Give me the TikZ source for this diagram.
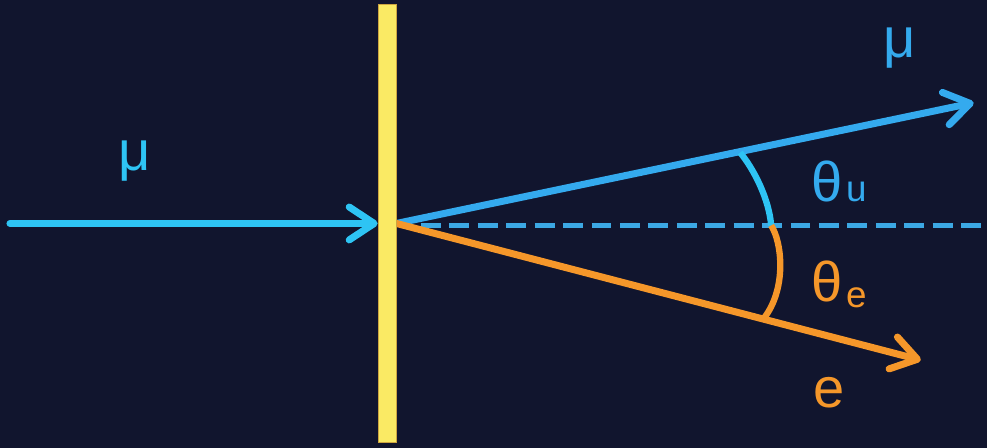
\documentclass[tikz,border=0pt]{standalone}
\usepackage{fontspec}
\setmainfont{Liberation Sans}
\usetikzlibrary{arrows.meta,positioning,calc}

\definecolor{bgnavy}{RGB}{17,21,46}
\definecolor{mucyan}{RGB}{46,196,244}
\definecolor{mublue}{RGB}{52,170,238}
\definecolor{axisblue}{RGB}{60,168,228}
\definecolor{eorange}{RGB}{245,151,42}
\definecolor{foilyellow}{RGB}{250,234,100}
\definecolor{foiledge}{RGB}{205,165,65}

\begin{document}
\begin{tikzpicture}[
    x=0.02cm, y=-0.02cm,
    foil/.style={rectangle, draw=foiledge, line width=0.5pt, fill=foilyellow,
                 minimum width=0.36cm, minimum height=8.8cm, inner sep=0pt},
    track/.style={line width=4pt, line cap=round,
                  -{Straight Barb[length=0.5cm, width=0.66cm, round]}},
    angarc/.style={line width=3.6pt},
    axis/.style={line width=2.7pt, draw=axisblue,
                 dash pattern=on 0.4cm off 0.17cm},
    lbl/.style={font=\fontsize{32}{38}\selectfont, inner sep=0pt}
]
\fill[bgnavy] (0,0) rectangle (989,449);

\coordinate (src) at (10,224);
\coordinate (mutip) at (976,103);
\coordinate (etip) at (923,361);
\coordinate (ax0) at (422,226);
\coordinate (ax1) at (989,226);
\coordinate (arcu) at (742,153);
\coordinate (arcm) at (773,226);
\coordinate (arce) at (765,320);
\node[foil] (foil) at (388,224) {};

\draw[axis] (ax0) -- (ax1);
\draw[track, mublue] (foil.east) -- (mutip);
\draw[track, eorange] (foil.east) -- (etip);
\draw[angarc, mucyan] (arcu) .. controls (756,170) and (771,200) .. (arcm);
\draw[angarc, eorange] (arcm) .. controls (784,243) and (789,290) .. (arce);
\node[foil] at (foil) {};
\draw[track, mucyan] (src) -- (foil.west);

\node[lbl, text=mucyan] (muin) at (135,161) {μ};
\node[lbl, text=mublue] (muout) at (902,48) {μ};
\node[lbl, text=eorange] (eout) at (831,394) {e};
\node[lbl, text=mublue] (thu) at (841,182) {θ\kern2pt{\fontsize{21}{24}\selectfont u}};
\node[lbl, text=eorange] (the) at (841,285)
    {θ\kern2pt\raisebox{-3pt}{\fontsize{21}{24}\selectfont e}};
\end{tikzpicture}
\end{document}
